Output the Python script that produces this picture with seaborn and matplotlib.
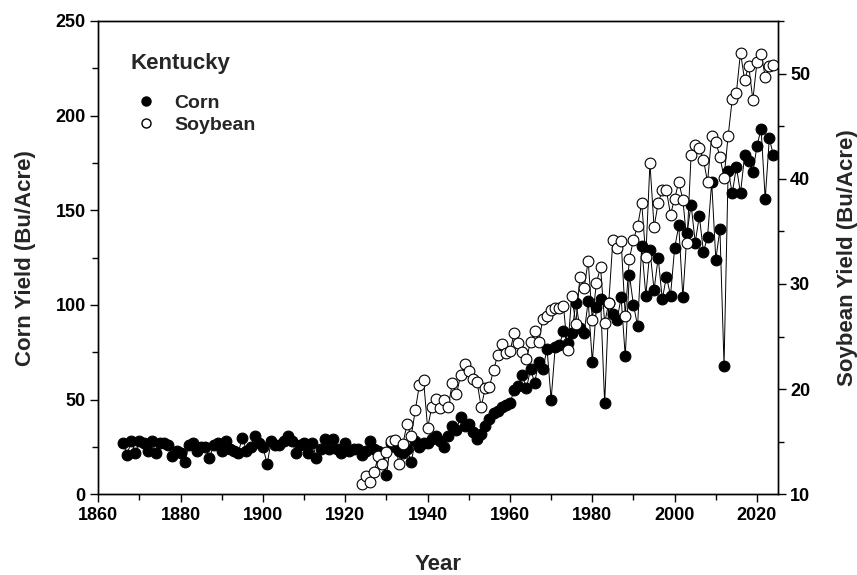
import numpy as np
import pandas as pd
import matplotlib
matplotlib.use('Agg')
import matplotlib.pyplot as plt
import seaborn as sns
from matplotlib.lines import Line2D
from matplotlib.ticker import MultipleLocator

# Kentucky yields
corn_years = list(range(1866, 2025))
corn_yield = [
    27, 21, 28, 22, 28, 27, 23, 28, 22, 27,      # 1866-1875
    27, 26, 20, 23, 22, 17, 26, 27, 23, 25,      # 1876-1885
    25, 19, 26, 27, 23, 28, 24, 23, 22, 30,      # 1886-1895
    23, 25, 31, 27, 25, 16, 28, 26, 26, 28,      # 1896-1905
    31, 28, 22, 26, 27, 22, 27, 19, 24, 29,      # 1906-1915
    24, 29, 24, 22, 27, 23, 24, 24,              # 1916-1923
    21, 23, 28, 24, 23, 22, 10, 27, 25, 23,      # 1924-1933
    22, 24, 17, 28, 25, 27, 27, 29, 31, 28,      # 1934-1943
    25, 31, 36, 34, 41, 36, 37, 33, 29, 32,      # 1944-1953
    36, 40, 43, 44, 46, 47, 48, 55, 57, 63,      # 1954-1963
    56, 66, 59, 70, 66, 77, 50, 78, 79, 86,      # 1964-1973
    80, 85, 101, 88, 85, 102, 70, 99, 103, 48,   # 1974-1983
    101, 95, 92, 104, 73, 116, 100, 89, 131, 105,  # 1984-1993
    129, 108, 125, 103, 115, 105, 130, 142, 104, 138,  # 1994-2003
    153, 133, 147, 128, 136, 165, 124, 140, 68, 171,   # 2004-2013
    159, 173, 159, 179, 176, 170, 184, 193, 156, 188,  # 2014-2023
    179,                                               # 2024
]

soy_years = list(range(1924, 2025))
soy_yield = [
    11.0, 11.7, 11.2, 12.1, 13.6, 12.9, 14.0, 15.1, 15.2, 12.9,   # 1924-1933
    14.8, 16.7, 15.5, 18.0, 20.4, 20.9, 16.3, 18.3, 19.1, 18.2,   # 1934-1943
    19.0, 18.3, 20.6, 19.5, 21.3, 22.4, 21.7, 21.0, 20.7, 18.3,   # 1944-1953
    20.1, 20.2, 21.8, 23.2, 24.3, 23.4, 23.6, 25.3, 24.4, 23.5,   # 1954-1963
    22.9, 24.5, 25.5, 24.5, 26.7, 27.0, 27.5, 27.7, 27.7, 27.9,   # 1964-1973
    23.7, 28.9, 26.2, 30.7, 29.6, 32.2, 26.6, 30.1, 31.6, 26.3,   # 1974-1983
    28.2, 34.2, 33.4, 34.1, 27.0, 32.4, 34.2, 35.5, 37.7, 32.6,   # 1984-1993
    41.5, 35.4, 37.7, 38.9, 38.9, 36.6, 38.1, 39.7, 38.0, 33.9,   # 1994-2003
    42.3, 43.2, 42.9, 41.8, 39.7, 44.1, 43.5, 42.1, 40.1, 44.1,   # 2004-2013
    47.6, 48.2, 52.0, 49.4, 50.7, 47.5, 51.1, 51.9, 49.7, 50.7,   # 2014-2023
    50.8,                                                         # 2024
]

corn = pd.DataFrame({'Year': corn_years, 'Yield': corn_yield})
soy = pd.DataFrame({'Year': soy_years, 'Yield': soy_yield})

sns.set_style('ticks')
plt.rcParams['font.family'] = ['Liberation Sans', 'DejaVu Sans']
plt.rcParams['font.weight'] = 'bold'
plt.rcParams['axes.labelweight'] = 'bold'

fig = plt.figure(figsize=(8.57, 5.75), dpi=100)
ax = fig.add_axes([0.1147, 0.1403, 0.7926, 0.8232])

# corn on left axis
sns.lineplot(data=corn, x='Year', y='Yield', ax=ax, color='black', lw=0.7, zorder=1)
sns.scatterplot(data=corn, x='Year', y='Yield', ax=ax, color='black',
                edgecolor='black', linewidth=0.8, s=60, zorder=2)

# soybean on right axis
ax2 = ax.twinx()
sns.lineplot(data=soy, x='Year', y='Yield', ax=ax2, color='black', lw=0.7, zorder=1)
sns.scatterplot(data=soy, x='Year', y='Yield', ax=ax2, color='white',
                edgecolor='black', linewidth=0.8, s=60, zorder=2)

ax.set_xlim(1860, 2025)
ax.set_ylim(0, 250)
ax2.set_ylim(10, 55)

ax.xaxis.set_major_locator(MultipleLocator(20))
ax.xaxis.set_minor_locator(MultipleLocator(10))
ax.yaxis.set_major_locator(MultipleLocator(50))
ax.yaxis.set_minor_locator(MultipleLocator(25))
ax2.yaxis.set_major_locator(MultipleLocator(10))
ax2.yaxis.set_minor_locator(MultipleLocator(5))

for a in (ax, ax2):
    for sp in a.spines.values():
        sp.set_visible(True)
        sp.set_color('black')
        sp.set_linewidth(1.0)
    a.tick_params(which='major', direction='out', length=6, width=1, color='black',
                  labelsize=13, labelcolor='black', pad=3)
    a.tick_params(which='minor', direction='out', length=4, width=1, color='black')
ax.tick_params(axis='x', which='both', top=False)
ax.tick_params(axis='y', which='both', right=False)

ax.set_xlabel('Year', fontsize=16, fontweight='bold', labelpad=22)
ax.set_ylabel('Corn Yield (Bu/Acre)', fontsize=16, fontweight='bold', labelpad=14)
ax2.set_ylabel('Soybean Yield (Bu/Acre)', fontsize=16, fontweight='bold', labelpad=19)

# legend block
ax2.text(0.0467, 0.911, 'Kentucky', transform=ax2.transAxes, fontsize=16,
         fontweight='bold', ha='left', va='center')
handles = [
    Line2D([], [], marker='o', ls='', color='black', markerfacecolor='black', markersize=6.5),
    Line2D([], [], marker='o', ls='', color='black', markerfacecolor='white', markersize=6.5),
]
leg = ax2.legend(handles, ['Corn', 'Soybean'], loc='upper left',
                 bbox_to_anchor=(0.048, 0.866), frameon=False,
                 borderpad=0, handlelength=0.6, handletextpad=1.15, labelspacing=0.25,
                 prop={'weight': 'bold', 'size': 14})

fig.savefig('out.png', dpi=100)
